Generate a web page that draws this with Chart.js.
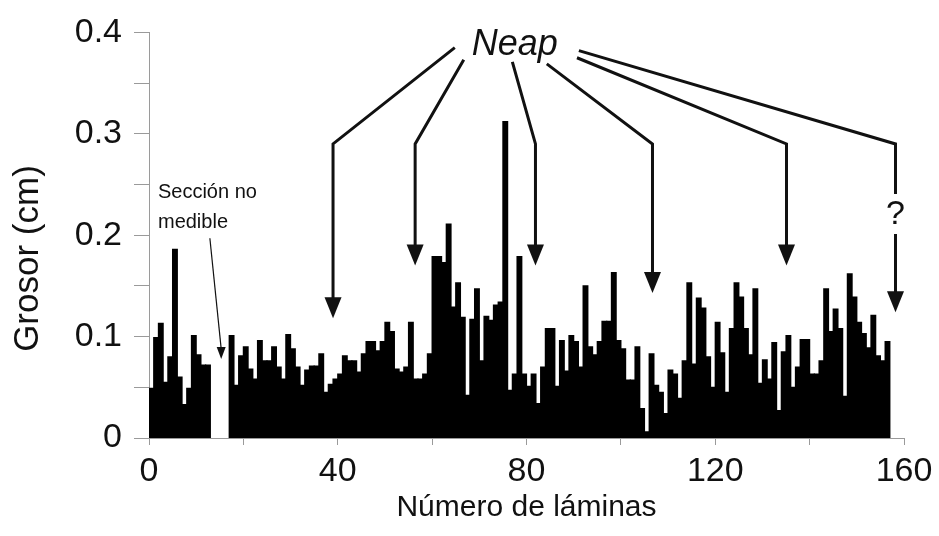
<!DOCTYPE html>
<html>
<head>
<meta charset="utf-8">
<script src="https://cdn.jsdelivr.net/npm/chart.js@4.4.1/dist/chart.umd.min.js"></script>
<style>
  html, body { margin: 0; padding: 0; background: #fff; }
</style>
</head>
<body>
<canvas id="grosorChart" width="939" height="536"></canvas>
<script>
// grosor de cada lámina (cm); null = sección no medible
const grosor = [
  0.049, 0.099, 0.113, 0.055, 0.080, 0.186, 0.060, 0.033, 0.049, 0.101,
  0.082, 0.072, 0.072, null, null, null, null, 0.101, 0.052, 0.081,
  0.090, 0.068, 0.058, 0.096, 0.076, 0.076, 0.090, 0.070, 0.058, 0.102,
  0.088, 0.070, 0.052, 0.067, 0.071, 0.071, 0.083, 0.045, 0.053, 0.058,
  0.063, 0.081, 0.076, 0.076, 0.065, 0.083, 0.095, 0.095, 0.086, 0.095,
  0.114, 0.105, 0.068, 0.065, 0.070, 0.114, 0.058, 0.058, 0.063, 0.083,
  0.179, 0.179, 0.173, 0.211, 0.129, 0.153, 0.119, 0.042, 0.117, 0.147,
  0.076, 0.120, 0.116, 0.131, 0.134, 0.312, 0.047, 0.063, 0.179, 0.063,
  0.051, 0.063, 0.034, 0.070, 0.108, 0.108, 0.051, 0.096, 0.066, 0.101,
  0.095, 0.070, 0.150, 0.090, 0.082, 0.095, 0.115, 0.115, 0.163, 0.096,
  0.088, 0.057, 0.057, 0.090, 0.029, 0.006, 0.083, 0.052, 0.045, 0.024,
  0.067, 0.063, 0.039, 0.076, 0.153, 0.073, 0.138, 0.128, 0.080, 0.050,
  0.114, 0.084, 0.045, 0.108, 0.153, 0.139, 0.108, 0.082, 0.147, 0.054,
  0.077, 0.058, 0.094, 0.027, 0.085, 0.101, 0.050, 0.070, 0.097, 0.097,
  0.063, 0.063, 0.076, 0.147, 0.105, 0.127, 0.108, 0.041, 0.162, 0.139,
  0.114, 0.103, 0.089, 0.121, 0.081, 0.076, 0.095
];
const laminas = grosor.map((_, i) => i + 1);
const etiquetasX = [0, 40, 80, 120, 160];
const etiquetasY = [0, 0.1, 0.2, 0.3, 0.4];

// flechas "Neap" en unidades de datos: inicio junto al texto, codo y punta
const neapPunta = [39, 56.4, 81.9, 106.7, 135.1, 158.2];
const neapPuntaY = [0.118, 0.170, 0.170, 0.143, 0.170, 0.124];
const neapInicioX = [64.8, 66.7, 77.0, 84.3, 90.7, 91.1];
const neapInicioY = [0.385, 0.373, 0.371, 0.369, 0.375, 0.382];
const codoY = 0.290;

const fuente = '"Liberation Sans", Arial, sans-serif';
const tinta = '#111';

function punta(ctx, x, y, w, h) {
    ctx.beginPath();
    ctx.moveTo(x, y);
    ctx.lineTo(x - w / 2, y - h);
    ctx.lineTo(x + w / 2, y - h);
    ctx.closePath();
    ctx.fill();
}

const anotaciones = {
    id: 'anotaciones',
    afterDraw(chart) {
        const { ctx, scales: { x, y } } = chart;
        ctx.save();
        ctx.strokeStyle = tinta;
        ctx.fillStyle = tinta;
        ctx.lineWidth = 3;
        ctx.lineJoin = 'miter';

        const yCodo = y.getPixelForValue(codoY);
        neapPunta.forEach((v, i) => {
            const px = x.getPixelForValue(v);
            const py = y.getPixelForValue(neapPuntaY[i]);
            ctx.beginPath();
            ctx.moveTo(x.getPixelForValue(neapInicioX[i]), y.getPixelForValue(neapInicioY[i]));
            ctx.lineTo(px, yCodo);
            if (i === 5) {
                ctx.lineTo(px, yCodo + 50);
                ctx.moveTo(px, yCodo + 90);
            }
            ctx.lineTo(px, py - 18);
            ctx.stroke();
            punta(ctx, px, py, 17, 21);
            if (i === 5) {
                ctx.font = '34px ' + fuente;
                ctx.textAlign = 'center';
                ctx.textBaseline = 'middle';
                ctx.fillText('?', px, yCodo + 71);
            }
        });

        ctx.font = 'italic 36px ' + fuente;
        ctx.textAlign = 'center';
        ctx.textBaseline = 'middle';
        ctx.fillText('Neap', x.getPixelForValue(77.5), y.getPixelForValue(0.388));

        // sección no medible
        ctx.font = '20px ' + fuente;
        ctx.textAlign = 'left';
        ctx.textBaseline = 'alphabetic';
        ctx.fillText('Sección no', x.getPixelForValue(1.9), y.getPixelForValue(0.237));
        ctx.fillText('medible', x.getPixelForValue(1.9), y.getPixelForValue(0.207));
        ctx.lineWidth = 1.2;
        const ax = x.getPixelForValue(15.3);
        const ay = y.getPixelForValue(0.078);
        ctx.beginPath();
        ctx.moveTo(x.getPixelForValue(12.9), y.getPixelForValue(0.197));
        ctx.lineTo(ax, ay - 10);
        ctx.stroke();
        punta(ctx, ax, ay, 9, 12);

        // título del eje y, algo más abajo que el centro del área
        ctx.translate(28, y.getPixelForValue(0.177));
        ctx.rotate(-Math.PI / 2);
        ctx.font = '35px ' + fuente;
        ctx.textAlign = 'center';
        ctx.textBaseline = 'middle';
        ctx.fillText('Grosor (cm)', 0, 0);
        ctx.restore();
    }
};

const grosorChart = new Chart(document.getElementById('grosorChart'), {
    type: 'bar',
    data: {
        datasets: [{
            label: 'Grosor (cm)',
            data: laminas.map((n, i) => ({ x: n - 0.5, y: grosor[i] })),
            backgroundColor: '#000',
            borderWidth: 0,
            inflateAmount: 0.6,
            barPercentage: 1,
            categoryPercentage: 1
        }]
    },
    options: {
        responsive: false,
        animation: false,
        devicePixelRatio: 1,
        layout: { padding: { top: 30, right: 35, bottom: 0, left: 0 } },
        plugins: {
            legend: { display: false },
            tooltip: { enabled: false }
        },
        scales: {
            x: {
                type: 'linear',
                min: 0,
                max: 160,
                offset: false,
                border: { color: '#9a9a9a', width: 1 },
                grid: { offset: false, drawOnChartArea: false, tickLength: 7, color: '#9a9a9a' },
                ticks: {
                    stepSize: 20,
                    autoSkip: false,
                    maxRotation: 0,
                    padding: 6,
                    color: tinta,
                    font: { family: fuente, size: 34 },
                    callback: v => etiquetasX.includes(v) ? String(v) : ''
                },
                title: {
                    display: true,
                    text: 'Número de láminas',
                    color: tinta,
                    font: { family: fuente, size: 30 },
                    padding: { top: 0, bottom: 10 }
                },
                afterFit: s => { s.height = 98; }
            },
            y: {
                min: 0,
                max: 0.4,
                border: { color: '#9a9a9a', width: 1 },
                grid: { drawOnChartArea: false, tickLength: 15, color: '#9a9a9a' },
                ticks: {
                    stepSize: 0.05,
                    padding: 12,
                    color: tinta,
                    font: { family: fuente, size: 34 },
                    callback: v => {
                        const e = etiquetasY.find(t => Math.abs(t - v) < 1e-6);
                        if (e === undefined) return '';
                        return e === 0 ? '0' : e.toFixed(1);
                    }
                },
                afterFit: s => { s.width = 149; }
            }
        }
    },
    plugins: [anotaciones]
});
</script>
</body>
</html>
